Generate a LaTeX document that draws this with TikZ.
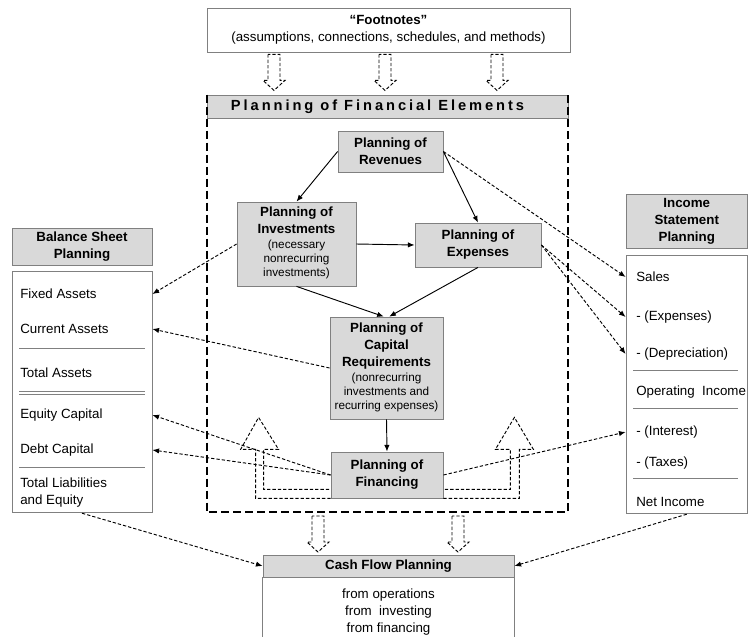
\documentclass[tikz,border=0pt]{standalone}
\usepackage{fontspec}
\setmainfont{Liberation Sans}
\newfontfamily\spacedfont[LetterSpace=20]{Liberation Sans}
\usepackage{xcolor}
\usepackage{tikz}
\usetikzlibrary{arrows.meta, positioning, calc}
\definecolor{boxfill}{RGB}{217,217,217}
\definecolor{boxline}{RGB}{128,128,128}
\newcommand{\note}[1]{{\fontsize{8.8}{10.5}\selectfont\mdseries\begin{tabular}[t]{@{}c@{}}#1\end{tabular}}}
\tikzset{
    hollowdown/.pic={
        \draw[hollow] (-6,0) -- (-6,26) -- (-11,26) -- (0,36) -- (11,26) -- (6,26) -- (6,0) -- cycle;
    }
}

\begin{document}
\begin{tikzpicture}[
    x=0.75pt, y=-0.75pt,
    every node/.style={align=center, font=\fontsize{10}{12.75}\selectfont},
    plan/.style={draw=boxline, fill=boxfill, line width=0.6pt, inner sep=1pt, font=\fontsize{10}{12.75}\selectfont\bfseries},
    sheet/.style={draw=boxline, fill=white, line width=0.6pt, inner sep=0pt},
    item/.style={anchor=west, inner sep=0pt, align=left},
    link/.style={-{Latex[length=5pt,width=4pt]}, line width=0.7pt},
    dlink/.style={link, dash pattern=on 2.5pt off 1.5pt},
    elemframe/.style={line width=1.5pt, dash pattern=on 6pt off 3pt},
    hollow/.style={line width=0.7pt, dash pattern=on 2.5pt off 1.5pt},
    sheetrule/.style={draw=boxline, line width=0.6pt}
]
    \useasboundingbox (0,0) rectangle (748,636);

    % Footnotes on top
    \node[sheet, minimum width=272.25pt, minimum height=33pt] (foot) at (388.5,30)
        {\textbf{“Footnotes”}\\(assumptions, connections, schedules, and methods)};

    % Financial elements
    \node[plan, minimum width=270.75pt, minimum height=17.25pt,
          font=\spacedfont\fontsize{11}{13}\selectfont\bfseries] (elemhead) at (387.5,106.5)
        {Planning of Financial Elements\hspace*{15pt}};
    \coordinate (elembot) at (387.5,512);

    \node[plan, minimum width=78.75pt, minimum height=30.75pt] (rev) at (390.5,151.5)
        {Planning of\\Revenues};
    \node[plan, minimum width=89.25pt, minimum height=63pt] (inv) at (296.5,244)
        {Planning of\\Investments\\[-1.5pt]\note{(necessary\\nonrecurring\\investments)}};
    \node[plan, minimum width=94.5pt, minimum height=33pt] (exp) at (478,245)
        {Planning of\\Expenses};
    \node[plan, minimum width=84.75pt, minimum height=76.5pt] (cap) at (386.5,368)
        {Planning of\\Capital\\Requirements\\[-1.5pt]\note{(nonrecurring\\investments and\\recurring expenses)}};
    \node[plan, minimum width=84pt, minimum height=34.5pt] (fin) at (387,475)
        {Planning of\\Financing};

    \draw[elemframe] (elemhead.north west) |- (elembot) -| (elemhead.north east);

    % Balance sheet
    \node[plan, minimum width=105pt, minimum height=27.75pt] (bshead) at (82,246.5)
        {Balance Sheet\\Planning};
    \node[sheet, minimum width=105pt, minimum height=180.75pt, below=4.5pt of bshead] (bsbody) {};
    \node[item] (fixed) at (20,294) {Fixed Assets};
    \node[item] (current) at (20,329) {Current Assets};
    \node[item] (totass) at (20,373) {Total Assets};
    \node[item] (equity) at (20,415) {Equity Capital};
    \node[item] (debt) at (20,450) {Debt Capital};
    \node[item] (totle) at (20,493) {Total Liabilities\\and Equity};
    \draw[sheetrule] (19,348) -- (145,348);
    \draw[sheetrule] (19,391) -- (145,391);
    \draw[sheetrule] (19,394) -- (145,394);
    \draw[sheetrule] (19,467) -- (145,467);

    % Income statement
    \node[plan, minimum width=91.1pt, minimum height=40.5pt] (ishead) at (686.75,221)
        {Income\\Statement\\Planning};
    \node[sheet, minimum width=91.1pt, minimum height=193.5pt, below=5.25pt of ishead] (isbody) {};
    \node[item] (sales) at (636,277) {Sales};
    \node[item] (isexp) at (636,317) {- (Expenses)};
    \node[item] (isdep) at (636,354) {- (Depreciation)};
    \node[item] (opinc) at (636,392) {Operating\ \ Income};
    \node[item] (interest) at (636,432) {- (Interest)};
    \node[item] (taxes) at (636,463) {- (Taxes)};
    \node[item] (netinc) at (636,502) {Net Income};
    \draw[sheetrule] (633,370) -- (738,370);
    \draw[sheetrule] (633,408) -- (738,408);
    \draw[sheetrule] (633,478) -- (738,478);

    % Cash flow
    \node[plan, minimum width=188.25pt, minimum height=16.5pt] (cfhead) at (388.5,566)
        {Cash Flow Planning};
    \node[inner sep=0pt, below=8.25pt of cfhead] (cfbody)
        {from operations\\from~ investing\\from financing};
    \draw[sheetrule] (cfhead.south west) -- ++(0,62);
    \draw[sheetrule] (cfhead.south east) -- ++(0,62);

    % Hollow arrows
    \pic at ($(foot.south)+(-114.5,2)$) {hollowdown};
    \pic at ($(foot.south)+(-3.5,2)$) {hollowdown};
    \pic at ($(foot.south)+(108.5,2)$) {hollowdown};
    \pic at ($(elembot)+(-69.5,4)$) {hollowdown};
    \pic at ($(elembot)+(70.5,4)$) {hollowdown};
    \draw[hollow] (fin.south west) -- ++(-75,0) -- ++(0,-49) -- ++(-15,0) -- ++(18,-32)
        -- ++(20,32) -- ++(-15,0) -- ++(0,40) -- ++(67,0);
    \draw[hollow] (fin.south east) -- ++(76,0) -- ++(0,-49) -- ++(14,0) -- ++(-19,-32)
        -- ++(-19,32) -- ++(15,0) -- ++(0,40) -- ++(-67,0);

    % Solid links
    \draw[link] (rev.west) -- (inv.north);
    \draw[link] (rev.east) -- (exp.north);
    \draw[link] (inv.east) -- (exp.west);
    \draw[link] (inv.south) -- ([xshift=-2pt]cap.north);
    \draw[link] (exp.south) -- ([xshift=2pt]cap.north);
    \draw[link] (cap.south) -- (fin.north);

    % Dashed links
    \draw[dlink] (rev.east) -- (isbody.west |- sales);
    \draw[dlink] (exp.east) -- (isbody.west |- isexp);
    \draw[dlink] (exp.east) -- (isbody.west |- isdep);
    \draw[dlink] (inv.west) -- (bsbody.east |- fixed);
    \draw[dlink] (cap.west) -- (bsbody.east |- current);
    \draw[dlink] (fin.west) -- (bsbody.east |- equity);
    \draw[dlink] (fin.west) -- (bsbody.east |- debt);
    \draw[dlink] (fin.east) -- (isbody.west |- interest);
    \draw[dlink] (bsbody.south) -- (cfhead.west);
    \draw[dlink] (isbody.south) -- (cfhead.east);
\end{tikzpicture}
\end{document}
